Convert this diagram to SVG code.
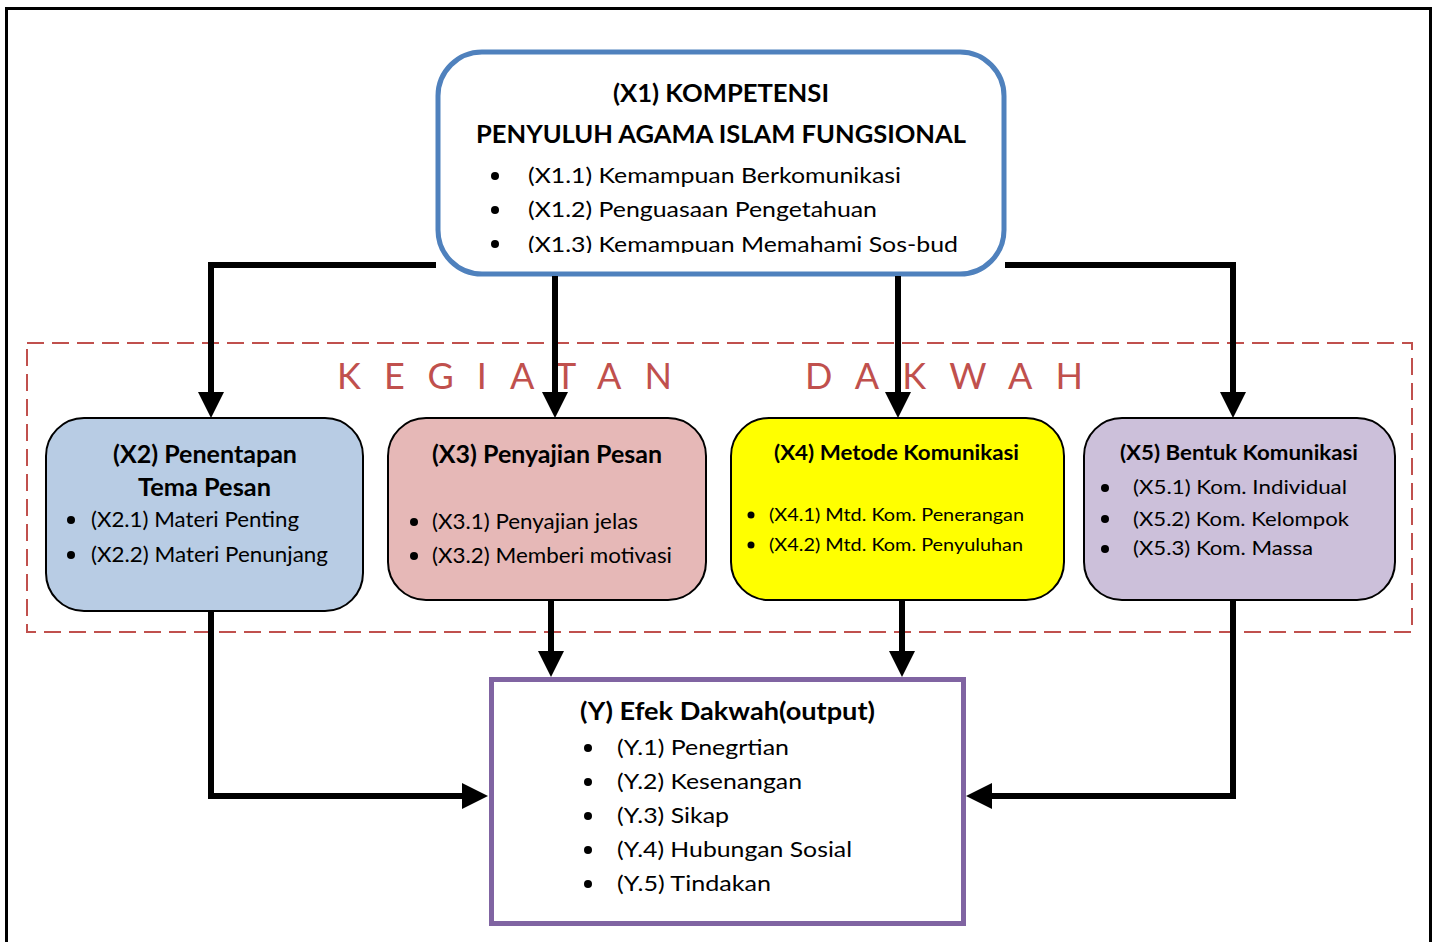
<svg xmlns="http://www.w3.org/2000/svg" width="1437" height="942" viewBox="0 0 1437 942">
<style>
text{font-family:Lato,"Open Sans","Liberation Sans",sans-serif;fill:#000}
.b{font-weight:bold}
.t1{font-size:24px}
.t2{font-size:22px}
.t3{font-size:20px}
.t4{font-size:18px}
.kd{font-size:36px;fill:#c0504d}
.box{stroke:#000;stroke-width:2}
.con{fill:none;stroke:#000;stroke-width:6;stroke-linejoin:miter;stroke-linecap:butt}
</style>
<defs>
<marker id="ah" viewBox="0 0 26 26" refX="0" refY="13" markerWidth="26" markerHeight="26" markerUnits="userSpaceOnUse" orient="auto">
<path d="M0,0 L26,13 L0,26 Z" fill="#000"/>
</marker>
<clipPath id="c1"><rect x="440" y="50" width="560" height="203"/></clipPath>
<g id="dot"><circle cx="0" cy="0" r="4" fill="#000"/></g>
</defs>
<rect width="1437" height="942" fill="#fff"/>
<path d="M6.5,942 V8.5 H1430.5 V942" fill="none" stroke="#000" stroke-width="3"/>
<g id="kegiatan-dakwah">
<rect x="27" y="343" width="1385" height="289" fill="none" stroke="#c0504d" stroke-width="2" stroke-dasharray="17,8"/>
<text class="kd" x="337" y="389" textLength="335" lengthAdjust="spacing">KEGIATAN</text>
<text class="kd" x="805" y="389" textLength="278" lengthAdjust="spacing">DAKWAH</text>
</g>
<g id="x1">
<rect x="438" y="52" width="566" height="222" rx="44" fill="#fff" stroke="#4f81bd" stroke-width="5"/>
<text class="b t1" x="613" y="102" textLength="216" lengthAdjust="spacingAndGlyphs">(X1) KOMPETENSI</text>
<text class="b t1" x="476" y="143" textLength="490" lengthAdjust="spacingAndGlyphs">PENYULUH AGAMA ISLAM FUNGSIONAL</text>
<g clip-path="url(#c1)">
<use href="#dot" x="495" y="176"/>
<text class="t2" x="528" y="183" textLength="373" lengthAdjust="spacingAndGlyphs">(X1.1) Kemampuan Berkomunikasi</text>
<use href="#dot" x="495" y="210"/>
<text class="t2" x="528" y="217" textLength="349" lengthAdjust="spacingAndGlyphs">(X1.2) Penguasaan Pengetahuan</text>
<use href="#dot" x="495" y="244"/>
<text class="t2" x="528" y="252" textLength="430" lengthAdjust="spacingAndGlyphs">(X1.3) Kemampuan Memahami Sos-bud</text>
</g>
</g>
<g id="x2">
<rect class="box" x="46" y="418" width="317" height="193" rx="38" fill="#b8cce4"/>
<text class="b t1" x="113" y="463" textLength="184" lengthAdjust="spacingAndGlyphs">(X2) Penentapan</text>
<text class="b t1" x="138" y="496" textLength="133" lengthAdjust="spacingAndGlyphs">Tema Pesan</text>
<use href="#dot" x="71" y="520"/>
<text class="t2" x="91" y="527" textLength="208" lengthAdjust="spacingAndGlyphs">(X2.1) Materi Penting</text>
<use href="#dot" x="71" y="555"/>
<text class="t2" x="91" y="562" textLength="237" lengthAdjust="spacingAndGlyphs">(X2.2) Materi Penunjang</text>
</g>
<g id="x3">
<rect class="box" x="388" y="418" width="318" height="182" rx="38" fill="#e6b8b7"/>
<text class="b t1" x="432" y="463" textLength="230" lengthAdjust="spacingAndGlyphs">(X3) Penyajian Pesan</text>
<use href="#dot" x="414" y="522"/>
<text class="t2" x="432" y="529" textLength="206" lengthAdjust="spacingAndGlyphs">(X3.1) Penyajian jelas</text>
<use href="#dot" x="414" y="556"/>
<text class="t2" x="432" y="563" textLength="240" lengthAdjust="spacingAndGlyphs">(X3.2) Memberi motivasi</text>
</g>
<g id="x4">
<rect class="box" x="731" y="418" width="333" height="182" rx="38" fill="#ffff00"/>
<text class="b t3" x="774" y="460" textLength="245" lengthAdjust="spacingAndGlyphs">(X4) Metode Komunikasi</text>
<circle cx="751" cy="515" r="3.5" fill="#000"/>
<text class="t4" x="769" y="521" textLength="255" lengthAdjust="spacingAndGlyphs">(X4.1) Mtd. Kom. Penerangan</text>
<circle cx="751" cy="545" r="3.5" fill="#000"/>
<text class="t4" x="769" y="551" textLength="254" lengthAdjust="spacingAndGlyphs">(X4.2) Mtd. Kom. Penyuluhan</text>
</g>
<g id="x5">
<rect class="box" x="1084" y="418" width="311" height="182" rx="38" fill="#ccc0da"/>
<text class="b t3" x="1120" y="460" textLength="238" lengthAdjust="spacingAndGlyphs">(X5) Bentuk Komunikasi</text>
<use href="#dot" x="1105" y="488"/>
<text class="t3" x="1133" y="494" textLength="214" lengthAdjust="spacingAndGlyphs">(X5.1) Kom. Individual</text>
<use href="#dot" x="1105" y="519"/>
<text class="t3" x="1133" y="526" textLength="216" lengthAdjust="spacingAndGlyphs">(X5.2) Kom. Kelompok</text>
<use href="#dot" x="1105" y="549"/>
<text class="t3" x="1133" y="555" textLength="180" lengthAdjust="spacingAndGlyphs">(X5.3) Kom. Massa</text>
</g>
<g id="y">
<rect x="491.5" y="679.5" width="472" height="244" fill="#fff" stroke="#8064a2" stroke-width="5"/>
<text class="b t1" x="580" y="720" textLength="295" lengthAdjust="spacingAndGlyphs">(Y) Efek Dakwah(output)</text>
<use href="#dot" x="588" y="748"/>
<text class="t2" x="617" y="755" textLength="172" lengthAdjust="spacingAndGlyphs">(Y.1) Penegrtian</text>
<use href="#dot" x="588" y="782"/>
<text class="t2" x="617" y="789" textLength="185" lengthAdjust="spacingAndGlyphs">(Y.2) Kesenangan</text>
<use href="#dot" x="588" y="816"/>
<text class="t2" x="617" y="823" textLength="112" lengthAdjust="spacingAndGlyphs">(Y.3) Sikap</text>
<use href="#dot" x="588" y="850"/>
<text class="t2" x="617" y="857" textLength="235" lengthAdjust="spacingAndGlyphs">(Y.4) Hubungan Sosial</text>
<use href="#dot" x="588" y="884"/>
<text class="t2" x="617" y="891" textLength="154" lengthAdjust="spacingAndGlyphs">(Y.5) Tindakan</text>
</g>
<g id="connectors">
<path class="con" d="M436,265 H211 V392" marker-end="url(#ah)"/>
<path class="con" d="M555,276 V392" marker-end="url(#ah)"/>
<path class="con" d="M898,276 V392" marker-end="url(#ah)"/>
<path class="con" d="M1005,265 H1233 V392" marker-end="url(#ah)"/>
<path class="con" d="M211,611 V796 H462" stroke-width="7" marker-end="url(#ah)"/>
<path class="con" d="M551,600 V651" marker-end="url(#ah)"/>
<path class="con" d="M902,600 V651" marker-end="url(#ah)"/>
<path class="con" d="M1233,600 V796 H992" stroke-width="7" marker-end="url(#ah)"/>
</g>
</svg>
